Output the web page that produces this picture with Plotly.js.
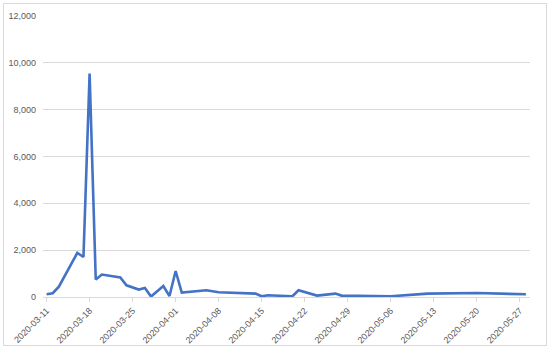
<!DOCTYPE html>
<html>
<head>
<meta charset="utf-8">
<script src="https://cdn.plot.ly/plotly-3.0.1.min.js"></script>
<style>
  html, body { margin: 0; padding: 0; background: #ffffff; }
  #frame { position: absolute; left: 3px; top: 3px; width: 542px; height: 341px; border: 1px solid #d9d9d9; }
  #chart { position: absolute; left: 0; top: 0; width: 550px; height: 352px; }
</style>
</head>
<body>
<div id="frame"></div>
<div id="chart"></div>
<script>
const dates = ['2020-03-11','2020-03-12','2020-03-13','2020-03-16','2020-03-17','2020-03-18','2020-03-19','2020-03-20',
  '2020-03-23','2020-03-24','2020-03-26','2020-03-27','2020-03-28','2020-03-30','2020-03-31','2020-04-01','2020-04-02',
  '2020-04-06','2020-04-08','2020-04-14','2020-04-15','2020-04-16','2020-04-20','2020-04-21','2020-04-24','2020-04-27',
  '2020-04-28','2020-05-06','2020-05-12','2020-05-20','2020-05-28'];
const values = [115,160,440,1885,1710,9540,745,960,
  830,500,316,385,20,470,40,1110,190,
  285,200,145,30,75,30,285,60,145,
  60,30,145,170,115];
const yTicks = [0,2000,4000,6000,8000,10000,12000];

const textColor = '#595959';
const gridColor = '#d9d9d9';
const font = {family: 'Liberation Sans, Arial, sans-serif', size: 9, color: textColor};

Plotly.newPlot('chart', [{
  x: dates, y: values, type: 'scatter', mode: 'lines',
  line: {color: '#4472C4', width: 2.6}
}], {
  width: 550, height: 352,
  margin: {l: 43, r: 20, t: 16, b: 55},
  paper_bgcolor: 'rgba(0,0,0,0)', plot_bgcolor: 'rgba(0,0,0,0)',
  showlegend: false,
  font: font,
  xaxis: {
    type: 'date',
    range: ['2020-03-10 10:00', '2020-05-28 16:00'],
    tick0: '2020-03-11', dtick: 7 * 86400000,
    tickformat: '%Y-%m-%d', tickangle: -45,
    showgrid: false, zeroline: false,
    showline: false,
    ticks: 'outside', ticklen: 4, tickcolor: gridColor,
    tickfont: font
  },
  yaxis: {
    range: [0, 12000], tickvals: yTicks, tickformat: ',d',
    showgrid: true, gridcolor: gridColor, gridwidth: 1,
    zeroline: true, zerolinecolor: gridColor, zerolinewidth: 1,
    showline: false, ticks: '', ticklabelstandoff: 6,
    tickfont: font
  }
}, {displayModeBar: false, staticPlot: true});
</script>
</body>
</html>
